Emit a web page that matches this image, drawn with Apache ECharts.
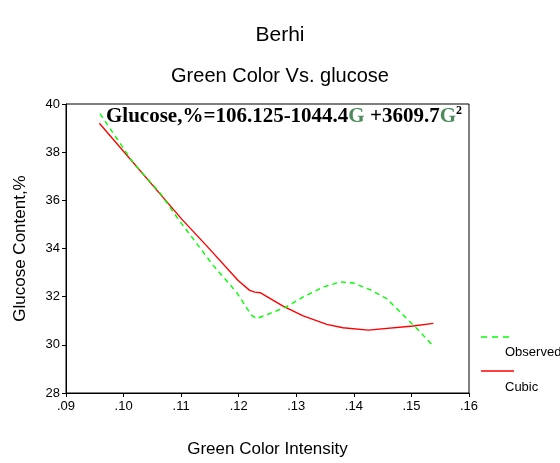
<!DOCTYPE html>
<html><head><meta charset="utf-8">
<script src="https://cdn.jsdelivr.net/npm/echarts@6/dist/echarts.min.js"></script>
<style>html,body{margin:0;padding:0;background:#fff}#c{width:560px;height:463px}</style>
</head><body><div id="c"></div>
<script>
const observedX = [0.0959, 0.1017, 0.1063, 0.1095, 0.1156, 0.1196, 0.1222, 0.1231, 0.1254, 0.1283, 0.1312, 0.1347, 0.1376, 0.1399, 0.1428, 0.1457, 0.1486, 0.1515, 0.1535];
const observedY = [39.6, 37.55, 36.32, 35.22, 33.29, 32.19, 31.23, 31.09, 31.30, 31.58, 31.99, 32.40, 32.61, 32.57, 32.29, 31.92, 31.23, 30.54, 30.02];
const cubicX = [0.0958, 0.1101, 0.1144, 0.1199, 0.1219, 0.1228, 0.1238, 0.1277, 0.1312, 0.1353, 0.1381, 0.1425, 0.1503, 0.1538];
const cubicY = [39.2, 35.22, 34.12, 32.67, 32.26, 32.19, 32.16, 31.61, 31.20, 30.85, 30.71, 30.61, 30.78, 30.89];
const seriesNames = ['Observed', 'Cubic'];
const titleText = 'Berhi';
const subtitleText = 'Green Color Vs. glucose';
const xName = 'Green Color Intensity';
const yName = 'Glucose Content,%';

const chart = echarts.init(document.getElementById('c'), null, {renderer: 'canvas'});
const font = 'Liberation Sans, Arial, sans-serif';
const serif = 'Liberation Serif, Times New Roman, serif';
chart.setOption({
  animation: false,
  backgroundColor: '#fff',
  title: [
    {text: titleText, left: 'center', top: 20, textStyle: {fontFamily: font, fontSize: 21, fontWeight: 'normal', color: '#000'}},
    {text: subtitleText, left: 'center', top: 61, textStyle: {fontFamily: font, fontSize: 20, fontWeight: 'normal', color: '#000'}}
  ],
  grid: {left: 66, right: 91, top: 104, bottom: 68, show: true, borderColor: '#000', borderWidth: 1, backgroundColor: 'transparent'},
  xAxis: {
    type: 'value', min: 0.09, max: 0.16, interval: 0.01,
    name: xName, nameLocation: 'middle', nameGap: 48,
    nameTextStyle: {fontFamily: font, fontSize: 17, color: '#000'},
    axisLine: {lineStyle: {color: '#000', width: 1}},
    axisTick: {show: true, length: 4, lineStyle: {color: '#000'}},
    splitLine: {show: false},
    axisLabel: {fontFamily: font, fontSize: 13, color: '#000', margin: 7,
      formatter: v => v.toFixed(2).replace(/^0\./, '.')}
  },
  yAxis: {
    type: 'value', min: 28, max: 40, interval: 2,
    name: yName, nameLocation: 'middle', nameGap: 37, nameRotate: 90,
    nameTextStyle: {fontFamily: font, fontSize: 17, color: '#000'},
    axisLine: {lineStyle: {color: '#000', width: 1}},
    axisTick: {show: true, length: 4, lineStyle: {color: '#000'}},
    splitLine: {show: false},
    axisLabel: {fontFamily: font, fontSize: 13, color: '#000', margin: 6}
  },
  series: [
    {name: seriesNames[0], type: 'line', data: observedX.map((x, i) => [x, observedY[i]]),
      showSymbol: false, smooth: false, lineStyle: {color: '#00ff00', width: 1.4, type: [5, 4]}, z: 3},
    {name: seriesNames[1], type: 'line', data: cubicX.map((x, i) => [x, cubicY[i]]),
      showSymbol: false, smooth: false, lineStyle: {color: '#ff0000', width: 1.4}, z: 2}
  ],
  graphic: [
    {type: 'text', left: 106, top: 103, z: 10, style: {
      text: '{b|Glucose,%=106.125-1044.4}{g|G}{b| +3609.7}{g|G}{s|2}',
      rich: {
        b: {fontFamily: serif, fontWeight: 'bold', fontSize: 21, fill: '#000', lineHeight: 24, verticalAlign: 'bottom'},
        g: {fontFamily: serif, fontWeight: 'bold', fontSize: 21, fill: '#4d8a5e', lineHeight: 24, verticalAlign: 'bottom'},
        s: {fontFamily: serif, fontWeight: 'bold', fontSize: 12, fill: '#000', lineHeight: 24, verticalAlign: 'top', padding: [2, 0, 0, 0]}
      }
    }},
    {type: 'line', shape: {x1: 481, y1: 337, x2: 514, y2: 337}, style: {stroke: '#00ff00', lineWidth: 1.4, lineDash: [6, 5]}},
    {type: 'text', left: 505, top: 346, style: {text: seriesNames[0], fontFamily: font, fontSize: 13, fill: '#000'}},
    {type: 'line', shape: {x1: 481, y1: 371, x2: 514, y2: 371}, style: {stroke: '#ff0000', lineWidth: 1.4}},
    {type: 'text', left: 505, top: 381, style: {text: seriesNames[1], fontFamily: font, fontSize: 13, fill: '#000'}}
  ]
});
</script></body></html>
